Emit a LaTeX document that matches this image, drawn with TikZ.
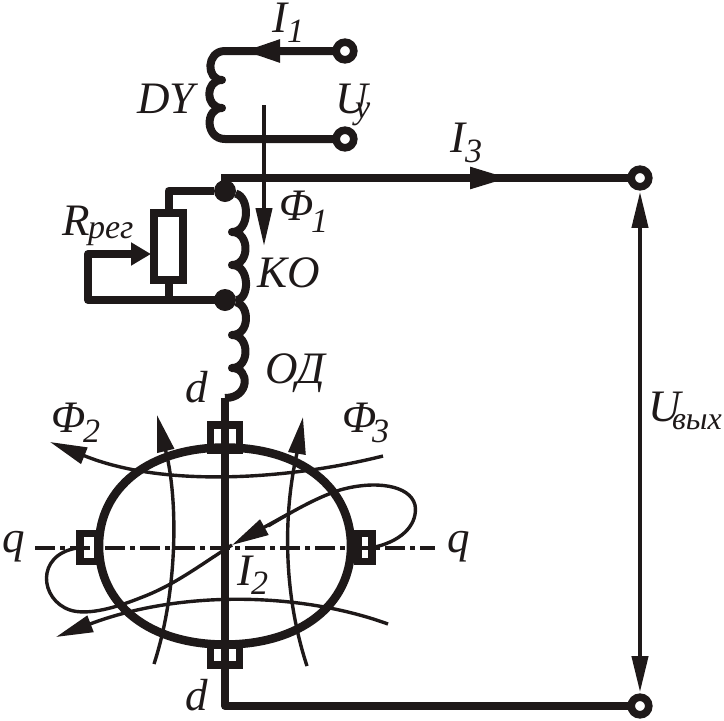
\documentclass[tikz,border=0pt]{standalone}
\usepackage{fontspec}
\setmainfont{Liberation Serif}
\usetikzlibrary{arrows.meta}
\newcommand{\MainTxt}[1]{{\fontsize{45}{45}\selectfont\itshape #1}}
\newcommand{\SubTxt}[1]{{\fontsize{34}{34}\selectfont\itshape #1}}
\newcommand{\OutTxt}[1]{{\fontsize{32}{32}\selectfont\itshape #1}}
\definecolor{ink}{RGB}{30,25,25}
\tikzset{
  wire/.style={line width=8pt,line join=round,draw=ink},
  thinflux/.style={line width=3.4pt,draw=ink},
  fluxline/.style={line width=4pt,draw=ink},
  terminal/.style={circle,draw=ink,line width=7.6pt,fill=white,minimum size=17.6pt,inner sep=0pt,outer sep=0pt},
  junction/.style={circle,fill=ink,minimum size=22pt,inner sep=0pt,outer sep=0pt},
  pole/.style={rectangle,draw=ink,line width=7.5pt,fill=white,inner sep=0pt,outer sep=0pt},
  lbl/.style={anchor=base west,inner sep=0pt,outer sep=0pt,text=ink},
  bighead/.style={-{Triangle[length=37pt,width=21pt,color=ink]}},
  smallhead/.style={-{Triangle[length=38pt,width=16pt,color=ink]}},
  curvehead/.style={-{Triangle[length=37pt,width=17pt,color=ink]}},
}
\begin{document}
\begin{tikzpicture}[x=1pt,y=-1pt]
\useasboundingbox (0,0) rectangle (724,721);
% terminals and junctions
\node[terminal] (T1) at (345,51) {};
\node[terminal] (T2) at (345,139) {};
\node[terminal] (T3) at (640,178) {};
\node[terminal] (T4) at (640,706) {};
\node[junction] (J1) at (225,191) {};
\node[junction] (J2) at (225,300) {};
% regulator
\node[pole,minimum width=29pt,minimum height=67pt] (R) at (168.5,246.5) {};
\coordinate (Rtap) at (151,254);
\coordinate (loopTL) at (88,254);
\coordinate (loopBL) at (88,300);
\coordinate (rTop) at (168.5,191);
\coordinate (rBot) at (168.5,300);
\draw[wire] (J1) -- (rTop) -- (R.north);
\draw[wire] (R.south) -- (rBot);
\draw[wire,line cap=rect] (J2) -- (loopBL) -- (loopTL) -- (135,254);
\draw[wire,-{Triangle[length=20pt,width=22pt,color=ink]}] (loopTL) -- (Rtap);
% DY coil
\coordinate (C1) at (243,51);
\draw[wire] (T1) -- (225,51)
  .. controls (206,51) and (206,80) .. (222,80)
  .. controls (205,80) and (205,108) .. (222,108)
  .. controls (205,108) and (205,139) .. (225,139) -- (T2);
\draw[wire,bighead] (T1) -- (C1);
% main bus
\coordinate (B0) at (221,178);
\coordinate (I3tip) at (510,178);
\draw[wire] (B0) -- (T3);
\draw[wire,-{Triangle[length=40pt,width=20pt,color=ink]}] (430,178) -- (I3tip);
\draw[wire] (225,178) -- (J1);
% KO and OD coils
\draw[wire] (J1) .. controls (250,197) and (250,232) .. (232,232)
  .. controls (250,232) and (250,265) .. (232,265)
  .. controls (250,265) and (250,300) .. (J2);
\draw[wire] (J2) .. controls (250,305) and (250,335) .. (232,335)
  .. controls (250,335) and (250,368) .. (232,368)
  .. controls (250,368) and (250,398) .. (225,398);
% flux 1
\coordinate (F1a) at (264,105);
\coordinate (F1b) at (264,246);
\draw[fluxline,smallhead] (F1a) -- (F1b);
% output voltage arrow
\draw[fluxline,{Triangle[length=36pt,width=16pt,color=ink]}-{Triangle[length=36pt,width=16pt,color=ink]},shorten <=5pt,shorten >=5pt] (T3) -- (T4);
% machine
\node[pole,minimum width=29pt,minimum height=25pt] (PT) at (225,437.5) {};
\node[pole,minimum width=29pt,minimum height=20pt] (PB) at (225,655) {};
\node[pole,minimum width=18pt,minimum height=28pt] (PL) at (89,547.5) {};
\node[pole,minimum width=14pt,minimum height=28pt] (PR) at (365,547.5) {};
\draw[ink,line width=8.5pt] (99,546)
  .. controls (99,487) and (150,447.5) .. (225,447.5)
  .. controls (300,447.5) and (351,487) .. (351,546)
  .. controls (351,605) and (300,644.5) .. (225,644.5)
  .. controls (150,644.5) and (99,605) .. (99,546) -- cycle;
\coordinate (QL) at (35,548);
\coordinate (QR) at (435,548);
\draw[ink,line width=4pt,dash pattern=on 20pt off 5pt on 5pt off 5pt] (QL) -- (QR);
\coordinate (Wtop) at (225,398);
\coordinate (Wbot) at (225,706);
\draw[wire] (Wtop) -- (Wbot) -- (T4);
% flux lines
\draw[thinflux,curvehead] (383,456) .. controls (300,477) and (170,490) .. (85,456) -- (50,442);
\draw[thinflux,curvehead] (388,624) .. controls (300,592) and (180,590) .. (90,624) -- (56,637);
\draw[thinflux,curvehead] (154,664) .. controls (178,590) and (178,500) .. (166,452) -- (157,415);
\draw[thinflux,curvehead] (307,666) .. controls (282,590) and (284,510) .. (297,453) -- (303,417);
% armature current loop
\draw[thinflux] (375,547) .. controls (405,540) and (418,522) .. (415,505)
  .. controls (410,485) and (375,480) .. (340,490) .. controls (315,498) and (290,513) .. (268,526);
\draw[thinflux,curvehead] (290,513) -- (232,545);
\draw[thinflux] (232,545) .. controls (200,565) and (175,585) .. (140,598)
  .. controls (110,610) and (85,615) .. (70,610)
  .. controls (40,600) and (35,555) .. (77,548);
% labels
\node[lbl] (lI1) at (272,32) {\MainTxt{I}};
\node[lbl] (lI1s) at (287,42) {\SubTxt{1}};
\node[lbl] (lDY) at (137,113) {\MainTxt{DY}};
\node[lbl] (lU) at (335,113) {\MainTxt{U}};
\node[lbl] (lUs) at (355,118) {\SubTxt{y}};
\node[lbl] (lI3) at (450,152) {\MainTxt{I}};
\node[lbl] (lI3s) at (465,162) {\SubTxt{3}};
\node[lbl] (lF1) at (279,220) {\MainTxt{Φ}};
\node[lbl] (lF1s) at (311,232) {\SubTxt{1}};
\node[lbl] (lKO) at (257,287) {\MainTxt{KO}};
\node[lbl] (lR) at (62,235) {\MainTxt{R}};
\node[lbl] (lRs) at (88,238) {\SubTxt{рег}};
\node[lbl] (lOD) at (265,383) {\MainTxt{ОД}};
\node[lbl] (ld1) at (185,402) {\MainTxt{d}};
\node[lbl] (ld2) at (185,710) {\MainTxt{d}};
\node[lbl] (lF2) at (52,432) {\MainTxt{Φ}};
\node[lbl] (lF2s) at (83,442) {\SubTxt{2}};
\node[lbl] (lF3) at (342,432) {\MainTxt{Φ}};
\node[lbl] (lF3s) at (372,442) {\SubTxt{3}};
\node[lbl] (lq1) at (2,552) {\MainTxt{q}};
\node[lbl] (lq2) at (447,552) {\MainTxt{q}};
\node[lbl] (lI2) at (237,585) {\MainTxt{I}};
\node[lbl] (lI2s) at (251,594) {\SubTxt{2}};
\node[lbl] (lUo) at (648,421) {\MainTxt{U}};
\node[lbl] (lUos) at (672,429) {\OutTxt{вых}};
\end{tikzpicture}
\end{document}
